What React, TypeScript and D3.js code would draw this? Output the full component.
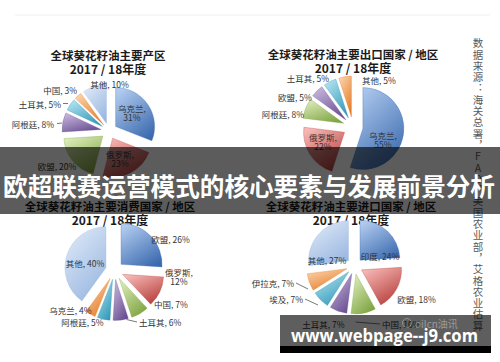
import React from 'react';
import * as d3 from 'd3';

const W = 500;
const H = 362;

// ---- data ----
const prodCategories = ['乌克兰', '俄罗斯', '欧盟', '阿根廷', '土耳其', '中国', '其他'];
const prodValues = [31, 23, 20, 8, 5, 3, 10];

const exportCategories = ['乌克兰', '俄罗斯', '阿根廷', '欧盟', '土耳其', '其他'];
const exportValues = [55, 22, 8, 5, 5, 5];

const consCategories = ['欧盟', '俄罗斯', '中国', '土耳其', '阿根廷', '乌克兰', '其他'];
const consValues = [26, 12, 7, 6, 5, 4, 40];

const importCategories = ['印度', '欧盟', '中国', '土耳其', '埃及', '伊拉克', '其他'];
const importValues = [24, 18, 10, 7, 7, 7, 27];

const chartTitles = [
  ['全球葵花籽油主要产区', '2017 / 18年度'],
  ['全球葵花籽油主要出口国家 / 地区', '2017 / 18年度'],
  ['全球葵花籽油主要消费国家 / 地区', '2017 / 18年度'],
  ['全球葵花籽油主要进口国家 / 地区', '2017 / 18年度'],
];

const bannerText = '欧超联赛运营模式的核心要素与发展前景分析';
const watermarkText = 'www.webpage--j9.com';
const sourceText = '数据来源：海关总署，FAO，美国农业部，艾格农业估算';

// ---- style ----
const palette: [string, string][] = [
  ['#b0cbee', '#3a69ae'],
  ['#f6b8b6', '#b53c38'],
  ['#dcecba', '#7ca23e'],
  ['#c6b6dc', '#674b8f'],
  ['#b2e2f1', '#2f97b6'],
  ['#fdd0a6', '#e27a25'],
  ['#dde8f7', '#98b6e0'],
];

type LabelLayout = { dx: number; dy: number; anchor: 'start' | 'middle' | 'end'; two?: boolean; leader?: number[] };

const layout1: LabelLayout[] = [
  { dx: 23, dy: -18.5, anchor: 'middle', two: true },
  { dx: 11, dy: 27.5, anchor: 'middle', two: true },
  { dx: -52, dy: 35, anchor: 'middle' },
  { dx: -55, dy: -7, anchor: 'end', leader: [-52, -7.5, -47, -8] },
  { dx: -48, dy: -27, anchor: 'end', leader: [-46, -27.5, -41, -27.5] },
  { dx: -32, dy: -41, anchor: 'end' },
  { dx: 0.5, dy: -47, anchor: 'middle' },
];
const layout2: LabelLayout[] = [
  { dx: 30, dy: 12.5, anchor: 'middle', two: true },
  { dx: -30, dy: 14.5, anchor: 'middle', two: true },
  { dx: -70, dy: -13, anchor: 'middle' },
  { dx: -58, dy: -30, anchor: 'middle' },
  { dx: -45, dy: -49, anchor: 'middle' },
  { dx: 26, dy: -47, anchor: 'middle' },
];
const layout3: LabelLayout[] = [
  { dx: 56, dy: -31.5, anchor: 'middle' },
  { dx: 64.5, dy: 5.5, anchor: 'middle', two: true },
  { dx: 56.5, dy: 33.5, anchor: 'middle' },
  { dx: 24.5, dy: 51.5, anchor: 'start', leader: [12, 49, 22.5, 51.5] },
  { dx: -32, dy: 51.5, anchor: 'middle' },
  { dx: -44, dy: 39.5, anchor: 'middle' },
  { dx: -29.5, dy: -7.5, anchor: 'middle' },
];
const layout4: LabelLayout[] = [
  { dx: 25.5, dy: -10.5, anchor: 'middle' },
  { dx: 62, dy: 33, anchor: 'middle' },
  { dx: 27.5, dy: 58, anchor: 'start', leader: [1, 56, 25.5, 58] },
  { dx: -31, dy: 58, anchor: 'middle' },
  { dx: -51.5, dy: 33, anchor: 'end', leader: [-49.5, 33, -36.5, 39] },
  { dx: -60.5, dy: 17, anchor: 'end', leader: [-58.5, 17, -46.5, 23] },
  { dx: -27.5, dy: -6, anchor: 'middle' },
];

const charts = [
  { cats: prodCategories, vals: prodValues, cx: 109, cy: 131, r: 39, d: 8, tx: 108, ty: 55, layout: layout1 },
  { cats: exportCategories, vals: exportValues, cx: 353, cy: 127, r: 41, d: 10, tx: 353, ty: 54, layout: layout2 },
  { cats: consCategories, vals: consValues, cx: 114.5, cy: 270.5, r: 41, d: 9, tx: 110, ty: 206, layout: layout3 },
  { cats: importCategories, vals: importValues, cx: 354.5, cy: 266, r: 40, d: 8, tx: 351, ty: 206, layout: layout4 },
];

const CJK = '"Noto Sans CJK SC", "Noto Sans", sans-serif';

function Pie({ chart, idx }: { chart: typeof charts[number]; idx: number }) {
  const pie = d3.pie<number>().sort(null).startAngle(0).endAngle(2 * Math.PI);
  const arcs = pie(chart.vals);
  const arc = d3.arc<d3.PieArcDatum<number>>().innerRadius(0).outerRadius(chart.r);
  const title = chartTitles[idx];
  return (
    <g>
      <text x={chart.tx} y={chart.ty} textAnchor="middle" dominantBaseline="central" fontFamily={CJK} fontWeight="bold" fontSize={11.5} fill="#1b1b1b">{title[0]}</text>
      <text x={chart.tx} y={chart.ty + 13.5} textAnchor="middle" dominantBaseline="central" fontFamily={CJK} fontWeight="bold" fontSize={12} fill="#1b1b1b">{title[1]}</text>
      <g transform={`translate(${chart.cx},${chart.cy})`}>
        {arcs.map((a, i) => {
          const mid = (a.startAngle + a.endAngle) / 2;
          const ox = chart.d * Math.sin(mid);
          const oy = -chart.d * Math.cos(mid);
          return (
            <path key={i} d={arc(a) || ''} transform={`translate(${ox},${oy})`} fill={`url(#grad${i})`} stroke={palette[i][1]} strokeOpacity={0.45} strokeWidth={0.7} />
          );
        })}
        {arcs.map((a, i) => {
          const L = chart.layout[i];
          const cat = chart.cats[i];
          const v = chart.vals[i];
          return (
            <g key={'l' + i}>
              {L.leader && <line x1={L.leader[0]} y1={L.leader[1]} x2={L.leader[2]} y2={L.leader[3]} stroke="#555" strokeWidth={0.8} />}
              {L.two ? (
                <text textAnchor={L.anchor} fontFamily={CJK} fontSize={8.5} fill="#333">
                  <tspan x={L.dx} y={L.dy - 4.5} dominantBaseline="central">{cat},</tspan>
                  <tspan x={L.dx} y={L.dy + 4.8} dominantBaseline="central">{v}%</tspan>
                </text>
              ) : (
                <text x={L.dx} y={L.dy} textAnchor={L.anchor} dominantBaseline="central" fontFamily={CJK} fontSize={8.5} fill="#333">{`${cat}, ${v}%`}</text>
              )}
            </g>
          );
        })}
      </g>
    </g>
  );
}

export default function App() {
  return (
    <svg width={W} height={H} viewBox={`0 0 ${W} ${H}`} style={{ position: 'absolute', left: 0, top: 0, display: 'block', background: '#fff' }}>
      <defs>
        {palette.map((c, i) => (
          <linearGradient key={i} id={`grad${i}`} x1="0.2" y1="0" x2="0.8" y2="1">
            <stop offset="0%" stopColor={c[0]} />
            <stop offset="100%" stopColor={c[1]} />
          </linearGradient>
        ))}
      </defs>
      <rect x={0} y={0} width={W} height={H} fill="#fff" />
      <line x1={15} y1={15} x2={490} y2={15} stroke="#f0f0f0" strokeWidth={1} />
      {charts.map((c, i) => (
        <Pie key={i} chart={c} idx={i} />
      ))}
      <text x={478} y={38} fontFamily={CJK} fontSize={10.5} fill="#5a5a5a"
        style={{ writingMode: 'vertical-rl', textOrientation: 'upright', letterSpacing: '0.8px' } as any}>
        {sourceText}
      </text>
      <rect x={0} y={147} width={W} height={67} fill="#000" fillOpacity={0.64} />
      <text x={249} y={185} textAnchor="middle" dominantBaseline="central" fontFamily={CJK} fontWeight="bold" fontSize={24.6} fill="#fff">{bannerText}</text>
      <rect x={280} y={315} width={211} height={31} fill="#000" fillOpacity={0.63} />
      <rect x={280} y={346} width={211} height={7} fill="#000" />
      <g opacity={0.45}>
        <circle cx={407} cy={323} r={4.5} fill="none" stroke="#ddd" strokeWidth={0.9} />
        <text x={415} y={323} dominantBaseline="central" fontFamily={CJK} fontSize={10} fill="#e0e0e0">oilcn油讯</text>
      </g>
      <text x={291} y={342} fontFamily='"Open Sans", sans-serif' fontWeight="bold" fontSize={17} fill="#fff" textLength={187} lengthAdjust="spacingAndGlyphs">{watermarkText}</text>
    </svg>
  );
}
